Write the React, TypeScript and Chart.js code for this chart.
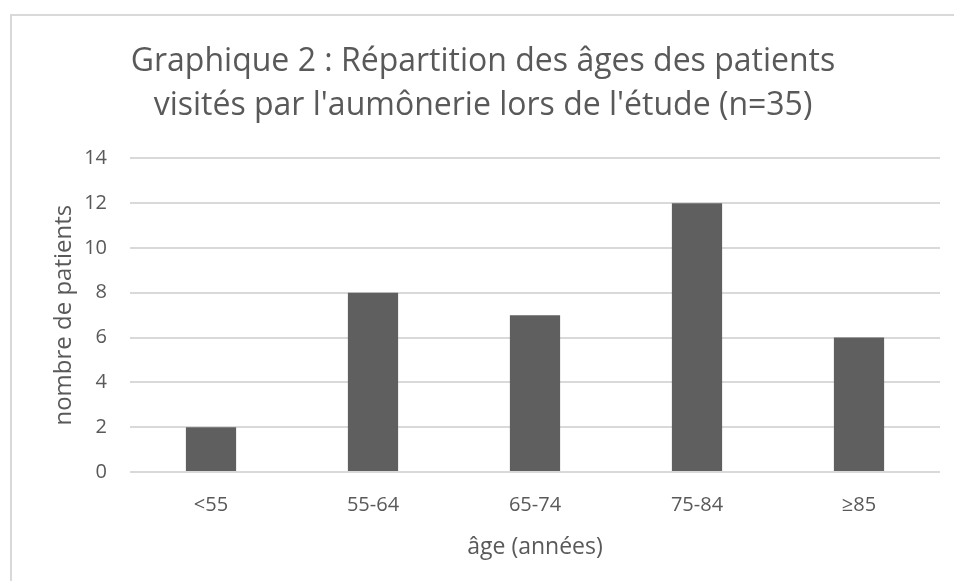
import React, { useEffect, useRef } from "react";
import { Chart, registerables } from "chart.js";

Chart.register(...registerables);

const categories = ["<55", "55-64", "65-74", "75-84", "≥85"];
const patients = [2, 8, 7, 12, 6];
const titleLines = [
  "Graphique 2 : Répartition des âges des patients",
  "visités par l'aumônerie lors de l'étude (n=35)",
];
const yTitle = "nombre de patients";
const xTitle = "âge (années)";

export default function App() {
  const ref = useRef<HTMLCanvasElement | null>(null);
  useEffect(() => {
    document.body.style.margin = "0";
    const ctx = ref.current!;
    const font = "'Open Sans', sans-serif";
    const chart = new Chart(ctx, {
      type: "bar",
      data: {
        labels: categories,
        datasets: [
          {
            data: patients,
            backgroundColor: "#5f5f5f",
            barPercentage: 0.62,
            categoryPercentage: 0.5,
          },
        ],
      },
      options: {
        animation: false,
        responsive: false,
        layout: { padding: { left: 14, right: 14, top: 24, bottom: 0 } },
        plugins: {
          legend: { display: false },
          tooltip: { enabled: false },
          title: {
            display: true,
            text: titleLines,
            color: "#595959",
            font: { family: font, size: 32, weight: "normal", lineHeight: 1.38 },
            padding: { top: 0, bottom: 30 },
          },
        },
        scales: {
          x: {
            grid: { display: false, drawTicks: false },
            border: { display: false },
            ticks: { color: "#595959", font: { family: font, size: 20 }, padding: 21 },
            title: {
              display: true,
              text: xTitle,
              color: "#595959",
              font: { family: font, size: 23 },
              padding: { top: 0, bottom: 20 },
            },
            afterFit: (scale: any) => {
              scale.height = 109;
            },
          },
          y: {
            min: 0,
            max: 14,
            ticks: { stepSize: 2, color: "#595959", font: { family: font, size: 20 }, padding: 23 },
            grid: { color: "#d9d9d9", lineWidth: 2, drawTicks: false },
            border: { display: false },
            title: {
              display: true,
              text: yTitle,
              color: "#595959",
              font: { family: font, size: 24 },
              padding: { top: 24, bottom: 0 },
            },
            afterFit: (scale: any) => {
              scale.width = 104;
            },
          },
        },
      },
    });
    return () => chart.destroy();
  }, []);
  return (
    <div
      style={{
        position: "absolute",
        left: 10,
        top: 14,
        width: 950,
        height: 580,
        borderLeft: "2px solid #d9d9d9",
        borderTop: "2px solid #d9d9d9",
        background: "#fff",
      }}
    >
      <canvas ref={ref} width={942} height={565} style={{ display: "block" }} />
    </div>
  );
}
